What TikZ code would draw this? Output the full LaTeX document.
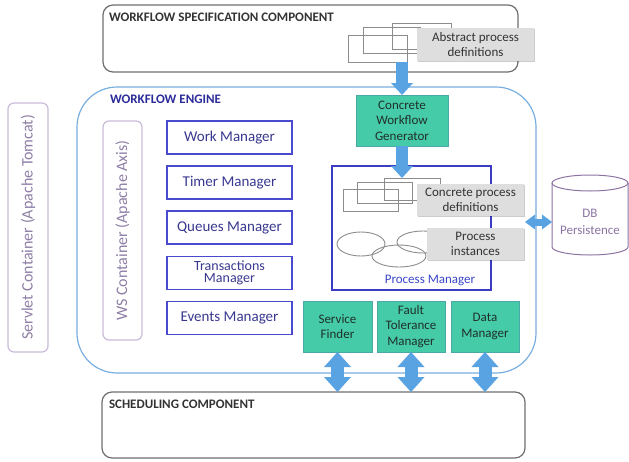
\documentclass[tikz,border=0pt]{standalone}
\usepackage{fontspec}
\setmainfont{Carlito}
\usetikzlibrary{arrows.meta,shadows}
\definecolor{boxgray}{HTML}{6E6E6E}
\definecolor{titlegray}{HTML}{333333}
\definecolor{engblue}{HTML}{78AEE0}
\definecolor{engtext}{HTML}{2B2B9A}
\definecolor{mgrblue}{HTML}{4A4ACF}
\definecolor{mgrtext}{HTML}{383890}
\definecolor{contborder}{HTML}{C9BCD9}
\definecolor{conttext}{HTML}{8E7EA6}
\definecolor{greenfill}{HTML}{46CBA8}
\definecolor{greenborder}{HTML}{4AA8A8}
\definecolor{greentext}{HTML}{1F2F2A}
\definecolor{labfill}{HTML}{DEDEDE}
\definecolor{stackgray}{HTML}{8C8C8C}
\definecolor{pmblue}{HTML}{3B3BC4}
\definecolor{pmtext}{HTML}{3A46C8}
\definecolor{dbpurple}{HTML}{8C73A3}
\definecolor{arrowblue}{HTML}{5AA3E3}
\begin{document}
\begin{tikzpicture}[x=1pt,y=-1pt,
  every node/.style={inner sep=0pt, outer sep=0pt},
  softshadow/.style={drop shadow={shadow xshift=1.2pt, shadow yshift=-1.2pt, opacity=0.2, fill=black}},
  component/.style={draw=boxgray, line width=1.2pt, rounded corners=10pt},
  title/.style={anchor=west, font=\fontsize{13}{15}\selectfont\bfseries, text=titlegray},
  container/.style={draw=contborder, line width=1.2pt, rounded corners=6pt, text=conttext, font=\fontsize{16}{18}\selectfont},
  mgrbox/.style={draw=mgrblue, line width=1.3pt, minimum width=125pt, minimum height=33pt, text=mgrtext, align=center, font=\fontsize{15}{16}\selectfont},
  greenbox/.style={draw=greenborder, fill=greenfill, line width=0.8pt, minimum width=68pt, minimum height=51pt, align=center, text=greentext, font=\fontsize{13}{15.5}\selectfont, softshadow},
  labelbox/.style={fill=labfill, align=center, text=titlegray, font=\fontsize{13}{15}\selectfont, softshadow},
  stack/.style={draw=stackgray, line width=0.9pt},
  fatarrow/.style={arrowblue, line width=12pt, -{Triangle[width=22pt,length=12pt,line width=0pt 0 0]}},
  fatdouble/.style={arrowblue, line width=13pt, {Triangle[width=27pt,length=15pt,line width=0pt 0 0]}-{Triangle[width=27pt,length=15pt,line width=0pt 0 0]}},
  thindouble/.style={arrowblue, line width=7pt, {Triangle[width=15pt,length=10pt,line width=0pt 0 0]}-{Triangle[width=15pt,length=10pt,line width=0pt 0 0]}}
]
\useasboundingbox (0,0) rectangle (629,461);

% main containers
\node[component, minimum width=415pt, minimum height=67pt] (spec) at (310.5,38.5) {};
\node[title] (spectitle) at (109,17) {WORKFLOW SPECIFICATION COMPONENT};
\node[component, minimum width=423pt, minimum height=66pt] (sched) at (313.5,425) {};
\node[title] (schedtitle) at (109,404) {SCHEDULING COMPONENT};
\node[draw=engblue, line width=1.2pt, rounded corners=40pt, minimum width=459pt, minimum height=286pt] (engine) at (306.5,230) {};
\node[title, text=engtext] (enginetitle) at (110,99) {WORKFLOW ENGINE};

% servlet and ws containers
\node[container, minimum width=40pt, minimum height=249pt] (servlet) at (28,227.5) {};
\node[rotate=90, text=conttext, font=\fontsize{16}{18}\selectfont] (servlettext) at (servlet.center) {Servlet Container (Apache Tomcat)};
\node[container, minimum width=39pt, minimum height=219pt] (ws) at (122.5,230.5) {};
\node[rotate=90, text=conttext, font=\fontsize{16}{18}\selectfont] (wstext) at (ws.center) {WS Container (Apache Axis)};

% managers
\node[mgrbox] (work) at (229.5,137.5) {Work Manager};
\node[mgrbox] (timer) at (229.5,182.5) {Timer Manager};
\node[mgrbox] (queues) at (229.5,227.5) {Queues Manager};
\node[mgrbox, font=\fontsize{14}{12.5}\selectfont] (trans) at (229.5,273) {Transactions\\Manager};
\node[mgrbox] (events) at (229.5,318) {Events Manager};

% abstract process definitions stack
\draw[stack] (348,35) rectangle (407,62);
\draw[stack] (363,27) rectangle (420,53);
\draw[stack] (392,23) rectangle (451,49);
\node[labelbox, minimum width=117pt, minimum height=33pt] (abstract) at (475.5,44.5) {Abstract process\\definitions};
\coordinate (specout) at (402,62);

% concrete workflow generator
\node[greenbox, minimum width=92pt] (cwg) at (402,120.5) {Concrete\\Workflow\\Generator};

% process manager
\node[draw=pmblue, line width=1.2pt, minimum width=159pt, minimum height=124pt] (pm) at (411.5,228) {};
\node[text=pmtext, font=\fontsize{13}{15}\selectfont] (pmtext) at (430,280) {Process Manager};
\draw[stack] (343,189) rectangle (398,211);
\draw[stack] (357,182) rectangle (412,203);
\draw[stack] (384,178) rectangle (440,200);
\coordinate (pmin) at (402,178);
\node[labelbox, minimum width=107pt, minimum height=32pt] (concrete) at (470.5,200) {Concrete process\\definitions};
\draw[stack] (361,244) ellipse[x radius=24, y radius=12];
\draw[stack] (399,256) ellipse[x radius=27, y radius=11];
\draw[stack] (423,242) ellipse[x radius=26, y radius=11];
\node[labelbox, minimum width=97pt, minimum height=32pt] (instances) at (475.5,244) {Process\\instances};

% DB persistence
\draw[dbpurple, line width=1pt] (552,183) -- (552,247) arc[start angle=180, end angle=0, x radius=38, y radius=8] -- (628,183);
\draw[dbpurple, line width=1pt] (590,183) ellipse[x radius=38, y radius=8];
\node[text=dbpurple, align=center, font=\fontsize{13}{17}\selectfont, minimum width=76pt] (db) at (590,222) {DB\\Persistence};
\coordinate (pmout) at (525,222);

% green service boxes
\node[greenbox, minimum width=69pt] (finder) at (337.5,326.5) {Service\\Finder};
\node[greenbox] (fault) at (411,326.5) {Fault\\Tolerance\\Manager};
\node[greenbox] (data) at (485,326.5) {Data\\Manager};

% arrows
\draw[fatarrow] (specout) -- (cwg.north);
\draw[fatarrow] (cwg.south) -- (pmin);
\draw[thindouble] (pmout) -- (db.west);
\draw[fatdouble] (finder.south) -- (finder.south |- sched.north);
\draw[fatdouble] (fault.south) -- (fault.south |- sched.north);
\draw[fatdouble] (data.south) -- (data.south |- sched.north);
\end{tikzpicture}
\end{document}
